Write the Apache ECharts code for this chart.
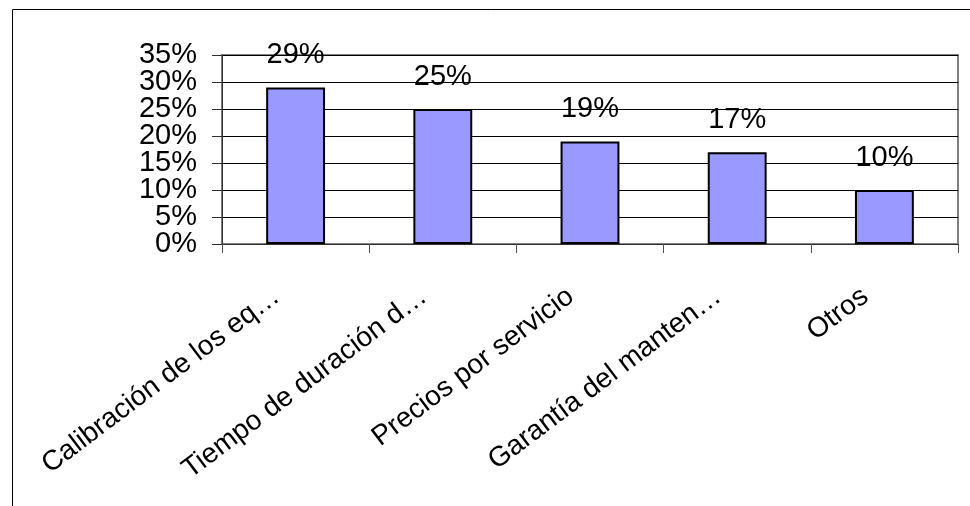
<!DOCTYPE html>
<html>
<head>
<meta charset="utf-8">
<script src="https://cdn.jsdelivr.net/npm/echarts@6/dist/echarts.min.js"></script>
<style>
html,body{margin:0;padding:0;background:#fff;}
#chart{width:970px;height:506px;}
</style>
</head>
<body>
<div id="chart"></div>
<script>
const categories = ["Calibración de los eq…", "Tiempo de duración d…", "Precios por servicio", "Garantía del manten…", "Otros"];
const values = [29, 25, 19, 17, 10];
const yTicks = [0, 5, 10, 15, 20, 25, 30, 35];

const FONT = "Arial, 'Liberation Sans', sans-serif";
const yMin = yTicks[0], yMax = yTicks[yTicks.length - 1], yStep = yTicks[1] - yTicks[0];

function yAxisPart(keepEven, withLines) {
  return {
    type: 'value',
    position: 'left',
    min: yMin, max: yMax, interval: yStep,
    axisLine: {show: withLines, lineStyle: {color: '#303030', width: 1}},
    axisTick: {show: withLines, inside: false, length: 10, lineStyle: {color: '#303030', width: 1}},
    axisLabel: {
      formatter: function (v) {
        const even = Math.round(v / yStep) % 2 === 0;
        return even === keepEven ? v + '%' : '';
      },
      margin: 25, fontSize: 29, fontFamily: FONT, color: '#000',
      showMinLabel: true, showMaxLabel: true, hideOverlap: false
    },
    splitLine: {show: withLines, lineStyle: {color: '#000', width: 1}}
  };
}

const chart = echarts.init(document.getElementById('chart'), null, {renderer: 'canvas'});
chart.setOption({
  animation: false,
  backgroundColor: '#fff',
  graphic: [{
    type: 'rect', left: 10, top: 7, z: -10,
    shape: {x: 0, y: 0, width: 1000, height: 600},
    style: {fill: 'none', stroke: '#000', lineWidth: 1}
  }],
  grid: {
    left: 222, right: 12, top: 55, bottom: 262,
    show: true, borderColor: '#808080', borderWidth: 2, backgroundColor: 'transparent'
  },
  xAxis: {
    type: 'category',
    data: categories,
    axisLine: {show: true, lineStyle: {color: '#303030', width: 1}},
    axisTick: {show: true, alignWithLabel: false, length: 9, lineStyle: {color: '#505050'}},
    axisLabel: {
      interval: 0, rotate: 37, margin: 35, padding: [0, 24, 0, 0],
      fontSize: 28, fontFamily: FONT, color: '#000', hideOverlap: false
    }
  },
  yAxis: [yAxisPart(true, true), yAxisPart(false, false)],
  series: [{
    type: 'bar',
    yAxisIndex: 0,
    data: values,
    barWidth: '40%',
    itemStyle: {color: '#9999FF', borderColor: '#000', borderWidth: 2},
    label: {
      show: true, position: 'top', distance: 18,
      formatter: '{c}%', fontSize: 29, fontFamily: FONT, color: '#000'
    }
  }]
});
</script>
</body>
</html>
